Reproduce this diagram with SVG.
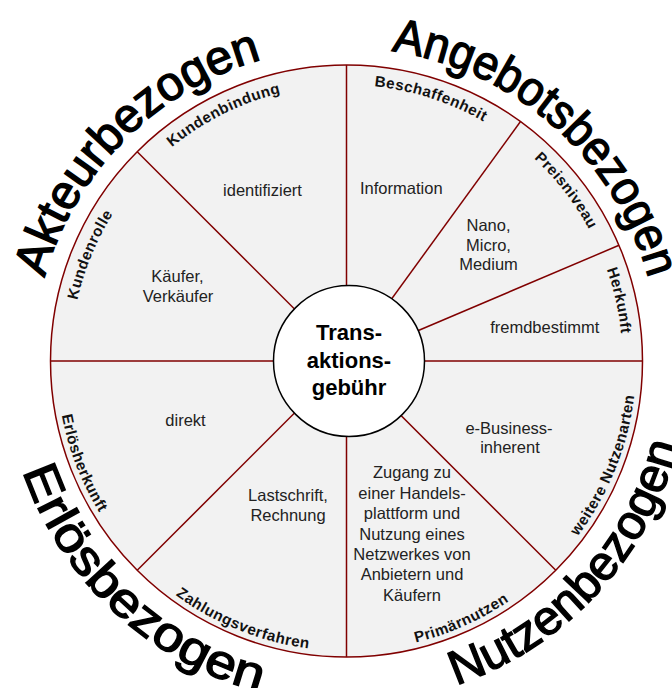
<svg xmlns="http://www.w3.org/2000/svg" xmlns:xlink="http://www.w3.org/1999/xlink" width="672" height="688" viewBox="0 0 672 688">
<style>
.sec{fill:#f2f2f2;stroke:#800000;stroke-width:1.5}
.ln{stroke:#800000;stroke-width:1.5;fill:none}
.hub{fill:#fff;stroke:#000;stroke-width:1.5}
.t{font-family:"Liberation Sans",Arial,sans-serif;font-size:16.5px;fill:#222;text-anchor:middle}
.c{font-family:"Liberation Sans",Arial,sans-serif;font-size:22px;font-weight:bold;fill:#000;text-anchor:middle}
.lab{font-family:"Liberation Sans",Arial,sans-serif;font-size:15.2px;font-weight:bold;fill:#111;letter-spacing:0.5px}
.big{font-family:"Liberation Sans",Arial,sans-serif;font-size:48px;fill:#000;stroke:#000;stroke-width:1.4}
</style>
<defs>
<path id="arcTop" d="M107.5,223 A276,276 0 0 1 585.5,223"/>
<path id="arcBot" d="M95.4,506 A290,290 0 0 0 597.6,506"/>
<path id="arcTopBig" d="M75.4,204.5 A313,313 0 0 1 617.6,204.5"/>
<path id="arcBotBig" d="M50.3,532 A342,342 0 0 0 642.7,532"/>
</defs>
<g id="wheel">
<circle class="sec" cx="346.5" cy="361" r="296"/>
</g>
<g id="connectors">
<line class="ln" x1="346.5" y1="361" x2="346.5" y2="65"/>
<line class="ln" x1="346.5" y1="361" x2="346.5" y2="657"/>
<line class="ln" x1="346.5" y1="361" x2="50.5" y2="361"/>
<line class="ln" x1="346.5" y1="361" x2="642.5" y2="361"/>
<line class="ln" x1="346.5" y1="361" x2="137.2" y2="151.7"/>
<line class="ln" x1="346.5" y1="361" x2="137.2" y2="570.3"/>
<line class="ln" x1="346.5" y1="361" x2="555.8" y2="570.3"/>
<line class="ln" x1="346.5" y1="361" x2="520.5" y2="121.5"/>
<line class="ln" x1="346.5" y1="361" x2="619" y2="245.3"/>
</g>
<g id="hub">
<circle class="hub" cx="349" cy="361" r="75.5"/>
<text class="c" x="349" y="340">Trans-</text>
<text class="c" x="349" y="367.5">aktions-</text>
<text class="c" x="349" y="395">gebühr</text>
</g>
<g id="kundenbindung">
<text class="lab" transform="rotate(-26.5 346.5 361)"><textPath xlink:href="#arcTop" href="#arcTop" startOffset="50%" text-anchor="middle">Kundenbindung</textPath></text>
<text class="t" x="262.5" y="196">identifiziert</text>
</g>
<g id="beschaffenheit">
<text class="lab" transform="rotate(17.8 346.5 361)"><textPath xlink:href="#arcTop" href="#arcTop" startOffset="50%" text-anchor="middle">Beschaffenheit</textPath></text>
<text class="t" x="401.3" y="194">Information</text>
</g>
<g id="preisniveau">
<text class="lab" transform="rotate(52.2 346.5 361)"><textPath xlink:href="#arcTop" href="#arcTop" startOffset="50%" text-anchor="middle">Preisniveau</textPath></text>
<text class="t" x="488.5" y="231">Nano,</text>
<text class="t" x="488.5" y="250.5">Micro,</text>
<text class="t" x="488.5" y="270">Medium</text>
</g>
<g id="herkunft">
<text class="lab" transform="rotate(77.5 346.5 361)"><textPath xlink:href="#arcTop" href="#arcTop" startOffset="50%" text-anchor="middle">Herkunft</textPath></text>
<text class="t" x="544.7" y="332.5">fremdbestimmt</text>
</g>
<g id="weitere-nutzenarten">
<text class="lab" transform="rotate(-68 346.5 361)"><textPath xlink:href="#arcBot" href="#arcBot" startOffset="50%" text-anchor="middle">weitere Nutzenarten</textPath></text>
<text class="t" x="509" y="434">e-Business-</text>
<text class="t" x="510" y="453">inherent</text>
</g>
<g id="primaernutzen">
<text class="lab" transform="rotate(-24 346.5 361)"><textPath xlink:href="#arcBot" href="#arcBot" startOffset="50%" text-anchor="middle">Primärnutzen</textPath></text>
<text class="t" x="412" y="478.3">Zugang zu</text>
<text class="t" x="412" y="498.7">einer Handels-</text>
<text class="t" x="412" y="519.1">plattform und</text>
<text class="t" x="412" y="539.5">Nutzung eines</text>
<text class="t" x="412" y="559.9">Netzwerkes von</text>
<text class="t" x="412" y="580.3">Anbietern und</text>
<text class="t" x="412" y="600.7">Käufern</text>
</g>
<g id="zahlungsverfahren">
<text class="lab" transform="rotate(21.8 346.5 361)"><textPath xlink:href="#arcBot" href="#arcBot" startOffset="50%" text-anchor="middle">Zahlungsverfahren</textPath></text>
<text class="t" x="288" y="500.7">Lastschrift,</text>
<text class="t" x="288" y="520.5">Rechnung</text>
</g>
<g id="erloesherkunft">
<text class="lab" transform="rotate(68.8 346.5 361)"><textPath xlink:href="#arcBot" href="#arcBot" startOffset="50%" text-anchor="middle">Erlösherkunft</textPath></text>
<text class="t" x="185.5" y="425.7">direkt</text>
</g>
<g id="kundenrolle">
<text class="lab" transform="rotate(-67.5 346.5 361)"><textPath xlink:href="#arcTop" href="#arcTop" startOffset="50%" text-anchor="middle">Kundenrolle</textPath></text>
<text class="t" x="177.5" y="281.7">Käufer,</text>
<text class="t" x="178" y="301.7">Verkäufer</text>
</g>
<g id="akteurbezogen">
<text class="big" transform="rotate(-45.15 346.5 361)"><textPath xlink:href="#arcTopBig" href="#arcTopBig" startOffset="50%" text-anchor="middle" textLength="322" lengthAdjust="spacingAndGlyphs">Akteurbezogen</textPath></text>
</g>
<g id="angebotsbezogen">
<text class="big" transform="rotate(41.5 346.5 361)"><textPath xlink:href="#arcTopBig" href="#arcTopBig" startOffset="50%" text-anchor="middle" textLength="363" lengthAdjust="spacingAndGlyphs">Angebotsbezogen</textPath></text>
</g>
<g id="nutzenbezogen">
<text class="big" transform="rotate(-47.25 346.5 361)"><textPath xlink:href="#arcBotBig" href="#arcBotBig" startOffset="50%" text-anchor="middle" textLength="341" lengthAdjust="spacingAndGlyphs">Nutzenbezogen</textPath></text>
</g>
<g id="erloesbezogen">
<text class="big" transform="rotate(43 346.5 361)"><textPath xlink:href="#arcBotBig" href="#arcBotBig" startOffset="50%" text-anchor="middle" textLength="337" lengthAdjust="spacingAndGlyphs">Erlösbezogen</textPath></text>
</g>
</svg>
